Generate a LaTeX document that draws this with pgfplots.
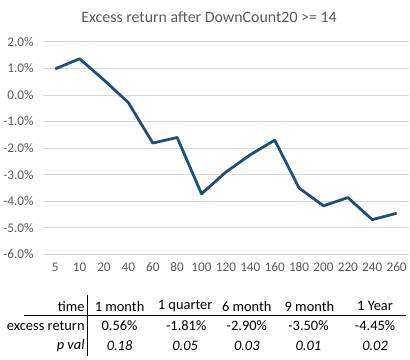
\documentclass[border=0pt]{standalone}
\usepackage{fontspec}
\setmainfont{Carlito}
\usepackage{pgfplots}
\pgfplotsset{compat=1.18}
\definecolor{serieblue}{HTML}{1F4E79}
\definecolor{gridgray}{HTML}{D9D9D9}
\definecolor{textgray}{HTML}{595959}
\begin{document}
\begin{tikzpicture}[x=1pt,y=1pt]
\path (0,0) rectangle (410,362);
\node[text=textgray, font=\fontsize{16}{18}\selectfont] at (208,345) {Excess return after DownCount20 >= 14};
\begin{axis}[
  at={(41pt,106pt)}, anchor=south west,
  scale only axis, width=368pt, height=214pt,
  xmin=-0.5, xmax=14.5, ymin=-6, ymax=2,
  ytick={-6,-5,...,2},
  xtick={0,...,14},
  xticklabels={5,10,20,40,60,80,100,120,140,160,180,200,220,240,260},
  axis line style={draw=none},
  major tick length=0pt,
  ymajorgrids,
  grid style={color=gridgray, line width=0.8pt},
  /pgf/number format/assume math mode=true,
  yticklabel={\pgfmathprintnumber[fixed,fixed zerofill,precision=1]{\tick}\%},
  ticklabel style={font=\fontsize{13.3}{15}\selectfont, text=textgray},
  yticklabel style={xshift=-6pt},
  xticklabel style={yshift=-5pt},
  clip=false,
]
\addplot[serieblue, line width=2.8pt, line join=round, mark=none] coordinates {
(0,0.98) (1,1.36) (2,0.56) (3,-0.29) (4,-1.81) (5,-1.60) (6,-3.72) (7,-2.90)
(8,-2.25) (9,-1.70) (10,-3.50) (11,-4.17) (12,-3.86) (13,-4.69) (14,-4.45)
};
\end{axis}
% table
\draw[line width=0.9pt] (86,65) -- (86,4);
\draw[line width=0.9pt] (22,45) -- (406,45);
\begin{scope}[every node/.style={font=\fontsize{14.5}{16}\selectfont, inner sep=0pt}]
\node[anchor=east] at (83,54) {time};
\node[anchor=east] at (83,34) {excess return};
\node[anchor=east] at (83,14) {\itshape p val};
\node at (118,54) {1 month};
\node at (184,54) {1 quarter};
\node at (246,54) {6 month};
\node at (309,54) {9 month};
\node at (375,54) {1 Year};
\node at (118,34) {0.56\%};
\node at (185,34) {-1.81\%};
\node at (246,34) {-2.90\%};
\node at (308,34) {-3.50\%};
\node at (375,34) {-4.45\%};
\node at (118,14) {\itshape 0.18};
\node at (184,14) {\itshape 0.05};
\node at (246,14) {\itshape 0.03};
\node at (308,14) {\itshape 0.01};
\node at (375,14) {\itshape 0.02};
\end{scope}
\end{tikzpicture}
\end{document}
